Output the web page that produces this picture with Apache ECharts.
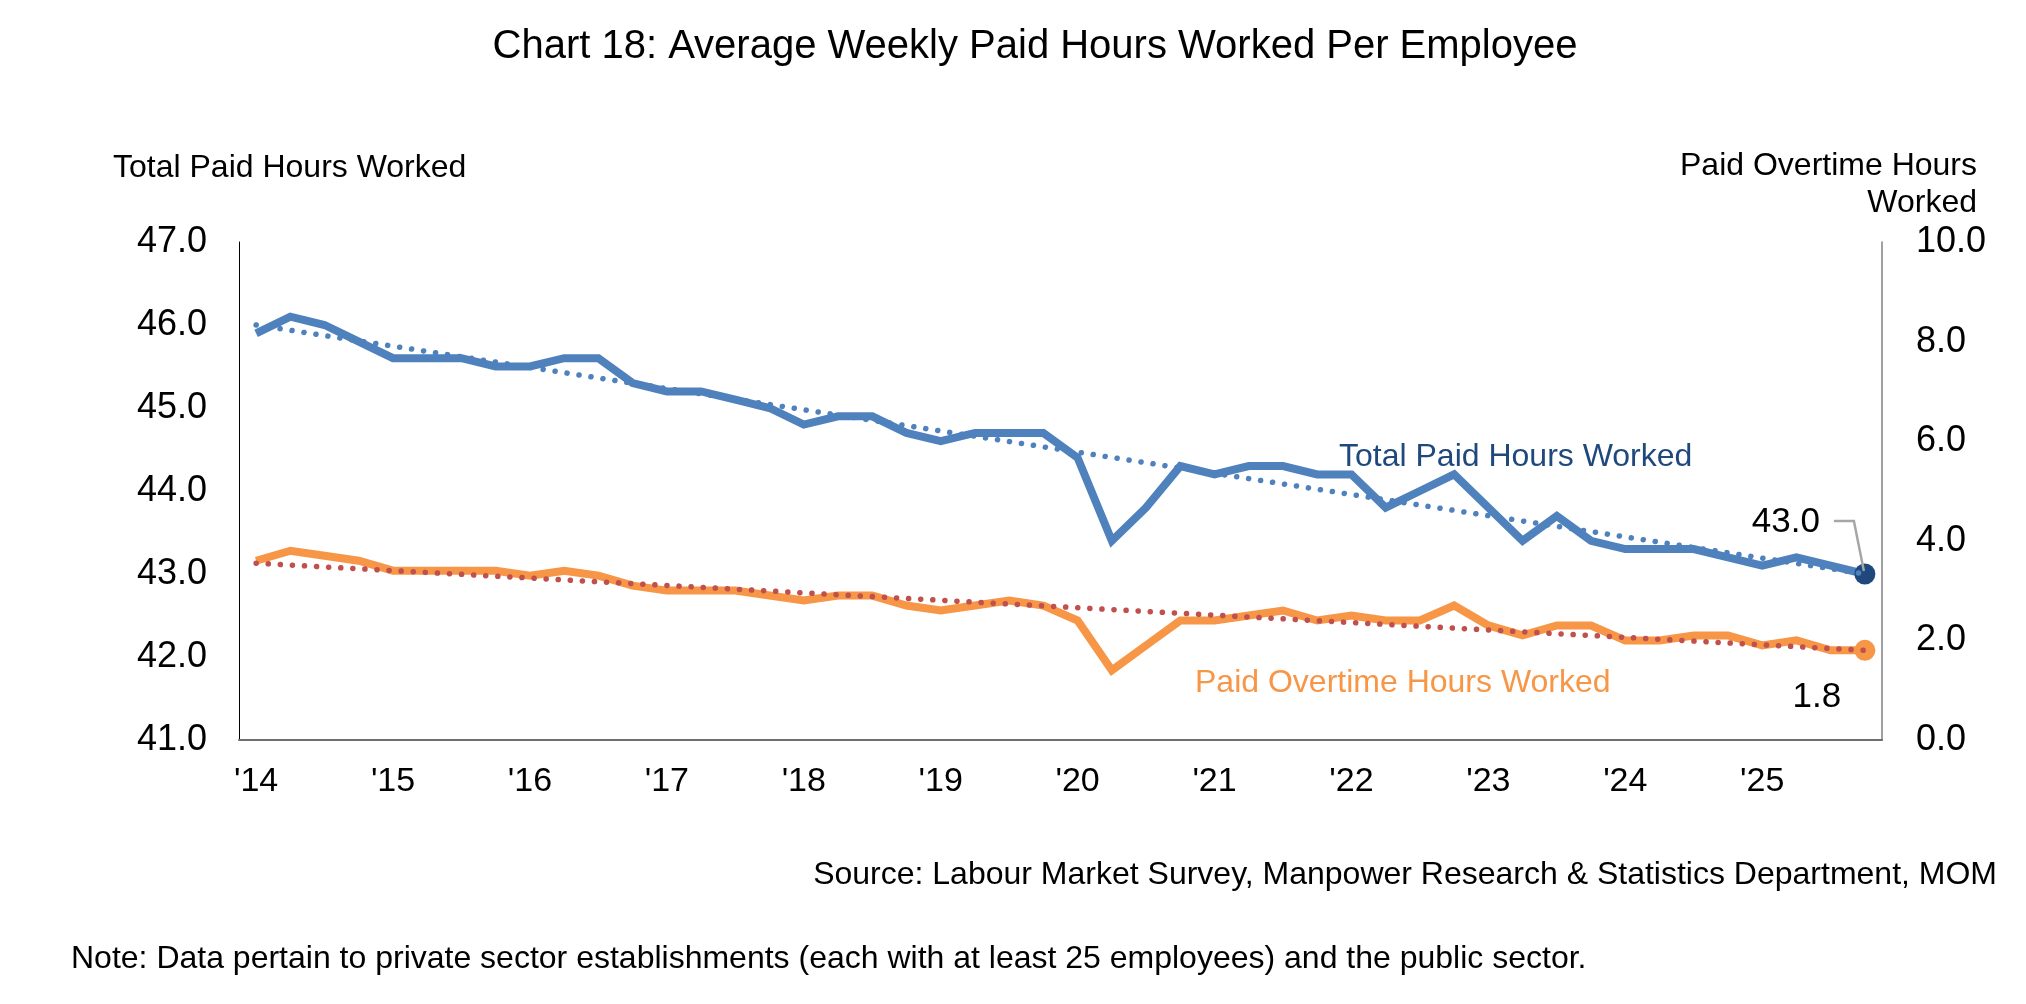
<!DOCTYPE html>
<html>
<head>
<meta charset="utf-8">
<title>Chart 18</title>
<script src="https://cdn.jsdelivr.net/npm/echarts@6/dist/echarts.min.js"></script>
<style>
    html, body { margin: 0; padding: 0; background: #fff; }
    #chart { width: 2026px; height: 1004px; }
</style>
</head>
<body>
<div id="chart"></div>
<script>
// x axis: quarters 2014Q1 - 2025Q4, labelled by year
const yearLabels = ["'14", "'15", "'16", "'17", "'18", "'19", "'20", "'21", "'22", "'23", "'24", "'25"];
const quarters = ['Q1', 'Q2', 'Q3', 'Q4'];

// Total paid hours worked (left axis)
const totalHours = [
    45.9, 46.1, 46.0, 45.8, 45.6, 45.6, 45.6, 45.5, 45.5, 45.6, 45.6, 45.3, 45.2, 45.2, 45.1, 45.0,
    44.8, 44.9, 44.9, 44.7, 44.6, 44.7, 44.7, 44.7, 44.4, 43.4, 43.8, 44.3, 44.2, 44.3, 44.3, 44.2,
    44.2, 43.8, 44.0, 44.2, 43.8, 43.4, 43.7, 43.4, 43.3, 43.3, 43.3, 43.2, 43.1, 43.2, 43.1, 43.0
];
// Paid overtime hours worked (right axis)
const overtimeHours = [
    3.6, 3.8, 3.7, 3.6, 3.4, 3.4, 3.4, 3.4, 3.3, 3.4, 3.3, 3.1, 3.0, 3.0, 3.0, 2.9,
    2.8, 2.9, 2.9, 2.7, 2.6, 2.7, 2.8, 2.7, 2.4, 1.4, 1.9, 2.4, 2.4, 2.5, 2.6, 2.4,
    2.5, 2.4, 2.4, 2.7, 2.3, 2.1, 2.3, 2.3, 2.0, 2.0, 2.1, 2.1, 1.9, 2.0, 1.8, 1.8
];
// linear trend lines: value at first and last quarter
const totalTrend = [46.0, 43.0];
const overtimeTrend = [3.55, 1.8];

const leftTicks = { min: 41, max: 47, interval: 1 };
const rightTicks = { min: 0, max: 10, interval: 2 };

const FONT = '"Liberation Sans", Arial, sans-serif';
const BLUE = '#4F81BD';
const DARK_BLUE = '#1F497D';
const ORANGE = '#F79646';
const RED = '#C0504D';

let categories = [];
yearLabels.forEach(y => quarters.forEach(q => categories.push(y + ' ' + q)));
const n = categories.length;

// end points only, the line between them is drawn by connectNulls
function trendData(ends) {
    return categories.map((c, i) => i === 0 ? ends[0] : (i === n - 1 ? ends[1] : null));
}

function lastPoint(arr, color, label) {
    return arr.map((v, i) => {
        if (i !== n - 1) return v;
        return {
            value: v,
            symbol: 'circle',
            symbolSize: 21,
            itemStyle: { color: color },
            label: label
        };
    });
}

var myChart = echarts.init(document.getElementById('chart'), null, { renderer: 'canvas' });
var option = {
    animation: false,
    backgroundColor: '#fff',
    textStyle: { fontFamily: FONT },
    grid: { left: 239, right: 144, top: 242, bottom: 264 },
    xAxis: {
        type: 'category',
        data: categories,
        axisLine: { lineStyle: { color: '#6E6E6E', width: 2 } },
        axisTick: { show: false },
        axisLabel: {
            interval: 3,
            margin: 25,
            color: '#000',
            fontSize: 34,
            fontFamily: FONT,
            formatter: function (value) { return value.split(' ')[0]; }
        },
        splitLine: { show: false }
    },
    yAxis: [
        {
            type: 'value',
            min: leftTicks.min,
            max: leftTicks.max,
            interval: leftTicks.interval,
            axisLine: { show: true, lineStyle: { color: '#000', width: 1 } },
            axisTick: { show: false },
            splitLine: { show: false },
            axisLabel: {
                margin: 32,
                color: '#000',
                fontSize: 36,
                fontFamily: FONT,
                formatter: function (v) { return v.toFixed(1); }
            }
        },
        {
            type: 'value',
            min: rightTicks.min,
            max: rightTicks.max,
            interval: rightTicks.interval,
            position: 'right',
            axisLine: { show: true, lineStyle: { color: '#808080', width: 1.5 } },
            axisTick: { show: false },
            splitLine: { show: false },
            axisLabel: {
                margin: 34,
                color: '#000',
                fontSize: 36,
                fontFamily: FONT,
                formatter: function (v) { return v.toFixed(1); }
            }
        }
    ],
    series: [
        {
            name: 'Total Paid Hours Worked',
            type: 'line',
            yAxisIndex: 0,
            symbol: 'none',
            showSymbol: true,
            lineStyle: { color: BLUE, width: 8, join: 'miter' },
            itemStyle: { color: BLUE },
            data: lastPoint(totalHours, DARK_BLUE, {
                show: true,
                position: 'inside',
                offset: [-79, -52],
                color: '#000',
                fontSize: 35,
                fontFamily: FONT,
                formatter: function (p) { return p.value.toFixed(1); }
            }),
            z: 3
        },
        {
            name: 'Paid Overtime Hours Worked',
            type: 'line',
            yAxisIndex: 1,
            symbol: 'none',
            showSymbol: true,
            lineStyle: { color: ORANGE, width: 8, join: 'miter' },
            itemStyle: { color: ORANGE },
            data: lastPoint(overtimeHours, ORANGE, {
                show: true,
                position: 'inside',
                offset: [-48, 47],
                color: '#000',
                fontSize: 35,
                fontFamily: FONT,
                formatter: function (p) { return p.value.toFixed(1); }
            }),
            z: 3
        },
        {
            name: 'Total trend',
            type: 'line',
            yAxisIndex: 0,
            symbol: 'none',
            connectNulls: true,
            lineStyle: { color: BLUE, width: 5.5, type: [0.1, 12], cap: 'round' },
            data: trendData(totalTrend),
            z: 4
        },
        {
            name: 'Overtime trend',
            type: 'line',
            yAxisIndex: 1,
            symbol: 'none',
            connectNulls: true,
            lineStyle: { color: RED, width: 5.5, type: [0.1, 12], cap: 'round' },
            data: trendData(overtimeTrend),
            z: 4
        }
    ]
};
option && myChart.setOption(option);

// texts around the plot + leader line of the 43.0 label
function textEl(text, x, y, size, color, align) {
    return {
        type: 'text',
        x: x,
        y: y,
        style: {
            text: text,
            fill: color || '#000',
            font: size + 'px ' + FONT,
            align: align || 'left',
            verticalAlign: 'middle',
            lineHeight: 37
        }
    };
}
var pEnd = myChart.convertToPixel({ xAxisIndex: 0, yAxisIndex: 0 }, [n - 1, totalHours[n - 1]]);
myChart.setOption({
    graphic: [
        textEl('Chart 18: Average Weekly Paid Hours Worked Per Employee', 1035, 47, 40, '#000', 'center'),
        textEl('Total Paid Hours Worked', 113, 168, 32),
        textEl('Paid Overtime Hours\nWorked', 1977, 185, 32, '#000', 'right'),
        textEl('Total Paid Hours Worked', 1339, 457, 32, DARK_BLUE),
        textEl('Paid Overtime Hours Worked', 1195, 683, 32, ORANGE),
        textEl('Source: Labour Market Survey, Manpower Research & Statistics Department, MOM', 1997, 875, 32, '#000', 'right'),
        textEl('Note: Data pertain to private sector establishments (each with at least 25 employees) and the public sector.', 71, 959, 32),
        {
            type: 'polyline',
            z: 10,
            shape: {
                points: [
                    [pEnd[0] - 31, pEnd[1] - 53],
                    [pEnd[0] - 11, pEnd[1] - 53],
                    [pEnd[0] - 1, pEnd[1] - 3]
                ]
            },
            style: { stroke: '#A6A6A6', lineWidth: 2.5, fill: null }
        }
    ]
});

window.addEventListener('resize', () => {
    myChart.resize();
});
</script>
</body>
</html>
